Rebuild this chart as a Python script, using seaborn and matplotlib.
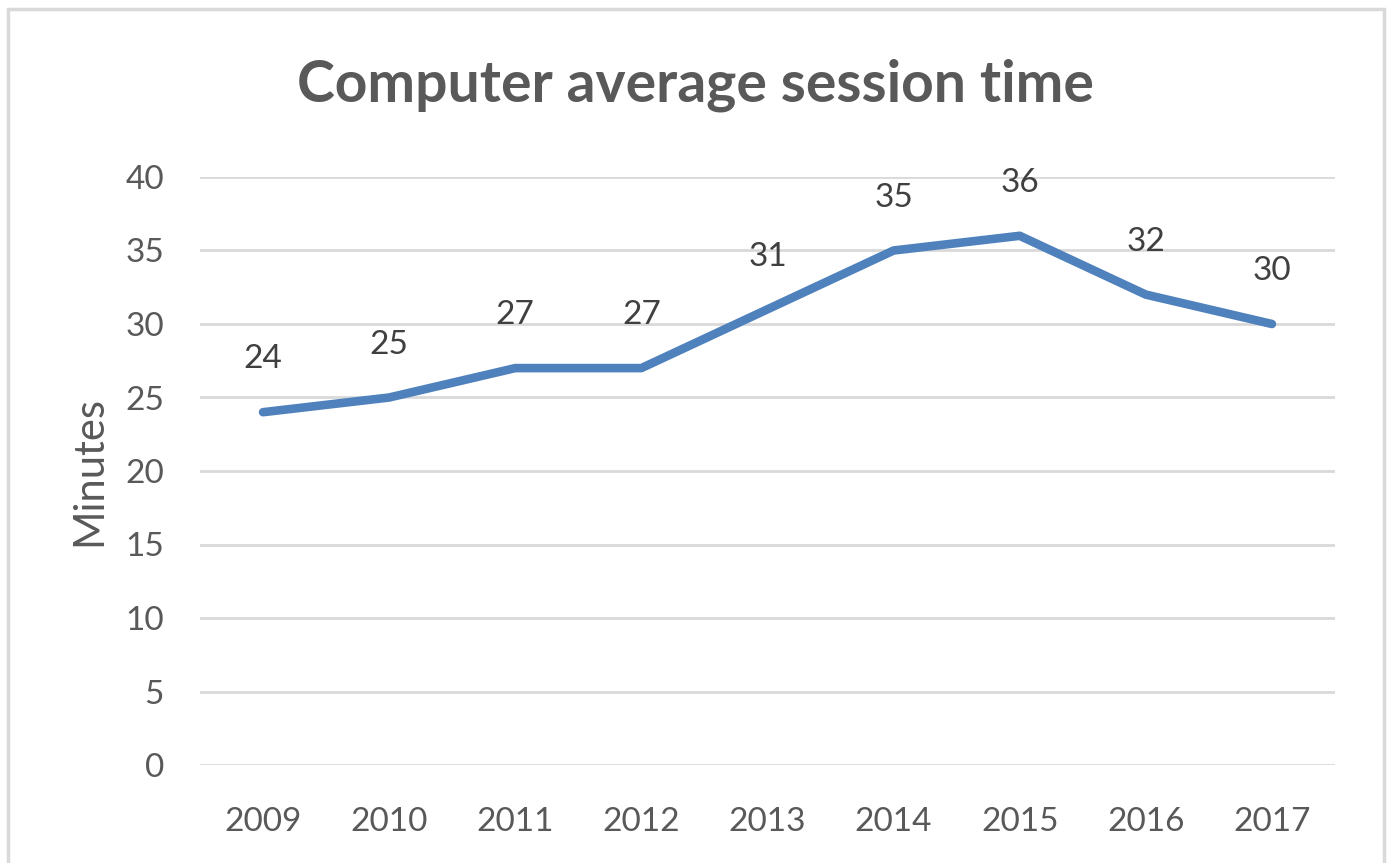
import pandas as pd
import matplotlib.pyplot as plt
import seaborn as sns
from matplotlib.patches import Rectangle

years = ["2009", "2010", "2011", "2012", "2013", "2014", "2015", "2016", "2017"]
minutes = [24, 25, 27, 27, 31, 35, 36, 32, 30]
yticks = [0, 5, 10, 15, 20, 25, 30, 35, 40]

df = pd.DataFrame({"Year": years, "Minutes": minutes})

sns.set_theme(style="white")
plt.rcParams["font.family"] = ["Lato", "DejaVu Sans"]

fig = plt.figure(figsize=(13.91, 8.63), dpi=100)
ax = fig.add_axes([200 / 1391, 1 - 765 / 863, 1135 / 1391, 588 / 863])

x = list(range(len(years)))
sns.lineplot(x=x, y=df["Minutes"], ax=ax, color="#4F81BD", linewidth=6.2,
             solid_capstyle="round", solid_joinstyle="round")

for xi, v in zip(x, minutes):
    ax.annotate(str(v), (xi, v), xytext=(0, 38), textcoords="offset points",
                ha="center", va="center", fontsize=24, color="#404040")

ax.set_xlim(-0.5, len(years) - 0.5)
ax.set_ylim(0, 40)
ax.set_xticks(x)
ax.set_xticklabels(years)
ax.set_yticks(yticks)
ax.tick_params(axis="both", labelsize=24, labelcolor="#595959", length=0)
ax.tick_params(axis="x", pad=30)
ax.tick_params(axis="y", pad=26)
ax.yaxis.grid(True, color="#D9D9D9", linewidth=2)
ax.set_axisbelow(True)
for s in ax.spines.values():
    s.set_visible(False)
ax.set_xlabel("")
ax.set_ylabel("Minutes", fontsize=30, color="#595959", labelpad=12)

fig.text(695 / 1391, 1 - 85 / 863, "Computer average session time",
         ha="center", va="center", fontsize=41, fontweight="bold", color="#595959")

fig.patches.append(Rectangle((8 / 1391, -0.01), 1376 / 1391, 1 - 9 / 863 + 0.01,
                             transform=fig.transFigure, fill=False,
                             edgecolor="#D9D9D9", linewidth=2.5))

fig.savefig("out.png", dpi=100)
